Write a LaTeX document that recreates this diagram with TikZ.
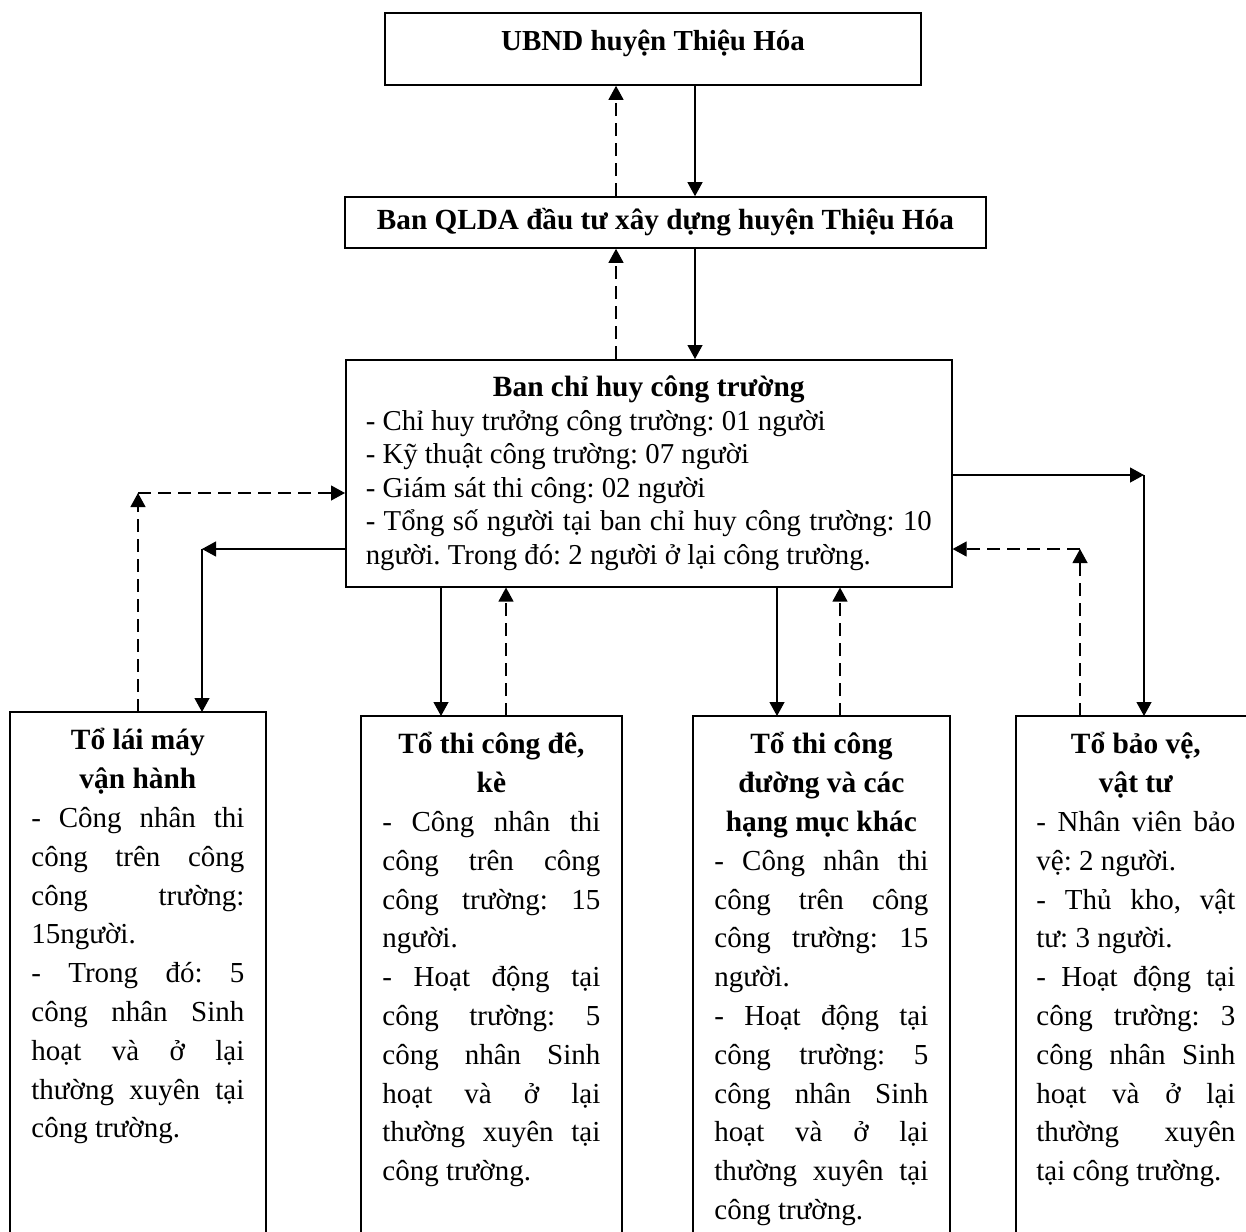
\documentclass[tikz,border=0pt]{standalone}
\usepackage{fontspec}
\setmainfont{Liberation Serif}
\usetikzlibrary{arrows.meta}
\tolerance=10000
\hbadness=10000
\hyphenpenalty=10000
\exhyphenpenalty=10000
\frenchspacing
\newcommand{\tieude}{\fontsize{14.7pt}{19.4pt}\selectfont\bfseries}
\tikzset{
	vien/.style={line width=0.8pt},
	khung/.style={draw, vien, inner sep=0pt},
	topbox/.style={khung, minimum width=268pt, text height=18.6pt, text depth=17.4pt,
		font=\fontsize{14.5pt}{17pt}\selectfont\bfseries},
	qldabox/.style={khung, minimum width=320.5pt, minimum height=25.5pt,
		font=\fontsize{14.6pt}{17pt}\selectfont\bfseries},
	chbox/.style={khung, text width=283pt, align=justify, inner xsep=10pt, inner ysep=8pt,
		font=\fontsize{14.4pt}{16.8pt}\selectfont},
	tobox/.style={anchor=north west, align=justify, inner xsep=10.5pt, inner ysep=8pt,
		font=\fontsize{14.5pt}{19.4pt}\selectfont},
	chinh/.style={-{Triangle[length=7pt,width=7.5pt]}, line width=0.6pt},
	phu/.style={chinh, dash pattern=on 6.5pt off 3.5pt}
}

\begin{document}
\begin{tikzpicture}[x=0.5pt, y=-0.5pt]
	%%%%% START %%%%%
	\useasboundingbox (0,0) rectangle (1246,1231);
	\clip (0,0) rectangle (1246,1231);
	
	\node[topbox] (ubnd) at (653,49) {UBND huyện Thiệu Hóa};
	\node[qldabox] (qlda) at (665.5,222.5) {Ban QLDA đầu tư xây dựng huyện Thiệu Hóa};
	
	\node[chbox, anchor=north west] (bch) at (345,359) {%
		{\centering\fontsize{14.7pt}{16.8pt}\selectfont\bfseries Ban chỉ huy công trường\par}
		- Chỉ huy trưởng công trường: 01 người\par
		- Kỹ thuật công trường: 07 người\par
		- Giám sát thi công: 02 người\par
		- Tổng số người tại ban chỉ huy công trường: 10\linebreak người. Trong đó: 2 người ở lại công trường.};
	
	\node[tobox, text width=106.5pt] (tlm) at (10,712) {%
		{\centering\tieude Tổ lái máy\\ vận hành\par}
		- Công nhân thi\linebreak công trên công\linebreak công trường:\linebreak 15người.\par
		- Trong đó: 5\linebreak công nhân Sinh\linebreak hoạt và ở lại\linebreak thường xuyên tại\linebreak công trường.};
	
	\node[tobox, text width=109pt] (tde) at (361,716) {%
		{\centering\tieude Tổ thi công đê,\\ kè\par}
		- Công nhân thi\linebreak công trên công\linebreak công trường: 15\linebreak người.\par
		- Hoạt động tại\linebreak công trường: 5\linebreak công nhân Sinh\linebreak hoạt và ở lại\linebreak thường xuyên tại\linebreak công trường.};
	
	\node[tobox, text width=107pt] (tdd) at (693,716) {%
		{\centering\tieude Tổ thi công\\ đường và các\\ hạng mục khác\par}
		- Công nhân thi\linebreak công trên công\linebreak công trường: 15\linebreak người.\par
		- Hoạt động tại\linebreak công trường: 5\linebreak công nhân Sinh\linebreak hoạt và ở lại\linebreak thường xuyên tại\linebreak công trường.};
	
	\node[tobox, text width=99.5pt, inner xsep=10pt] (tbv) at (1016,716) {%
		{\centering\tieude Tổ bảo vệ,\\ vật tư\par}
		- Nhân viên bảo\linebreak vệ: 2 người.\par
		- Thủ kho, vật\linebreak tư: 3 người.\par
		- Hoạt động tại\linebreak công trường: 3\linebreak công nhân Sinh\linebreak hoạt và ở lại\linebreak thường xuyên\linebreak tại công trường.};
	
	% bottom boxes run off the page
	\coordinate (day) at (0,1260);
	\draw[vien] (tlm.north west |- day) -- (tlm.north west) -- (tlm.north east) -- (tlm.north east |- day);
	\draw[vien] (tde.north west |- day) -- (tde.north west) -- (tde.north east) -- (tde.north east |- day);
	\draw[vien] (tdd.north west |- day) -- (tdd.north west) -- (tdd.north east) -- (tdd.north east |- day);
	\draw[vien] (tbv.north west |- day) -- (tbv.north west) -- (tbv.north east) -- (tbv.north east |- day);
	
	\coordinate (a1) at (616,0);
	\coordinate (a2) at (695,0);
	\coordinate (b1) at (441,0);
	\coordinate (b2) at (506,0);
	\coordinate (b3) at (777,0);
	\coordinate (b4) at (840,0);
	
	\draw[phu] (a1 |- qlda.north) -- (a1 |- ubnd.south);
	\draw[chinh] (a2 |- ubnd.south) -- (a2 |- qlda.north);
	\draw[phu] (a1 |- bch.north) -- (a1 |- qlda.south);
	\draw[chinh] (a2 |- qlda.south) -- (a2 |- bch.north);
	
	\draw[chinh] (b1 |- bch.south) -- (b1 |- tde.north);
	\draw[phu] (b2 |- tde.north) -- (b2 |- bch.south);
	\draw[chinh] (b3 |- bch.south) -- (b3 |- tdd.north);
	\draw[phu] (b4 |- tdd.north) -- (b4 |- bch.south);
	
	% left side
	\coordinate (lup) at (138,493);
	\coordinate (ldown) at (202,549);
	\draw[phu] (lup |- tlm.north) -- (lup);
	\draw[phu] (lup) -- (bch.west |- lup);
	\draw[chinh] (bch.west |- ldown) -- (ldown);
	\draw[chinh] (ldown) -- (ldown |- tlm.north);
	
	% right side
	\coordinate (rdown) at (1144,475);
	\coordinate (rup) at (1080,549);
	\draw[chinh] (bch.east |- rdown) -- (rdown);
	\draw[chinh] (rdown) -- (rdown |- tbv.north);
	\draw[phu] (rup |- tbv.north) -- (rup);
	\draw[phu] (rup) -- (bch.east |- rup);
	
	%%%%% END %%%%%
\end{tikzpicture}
\end{document}
